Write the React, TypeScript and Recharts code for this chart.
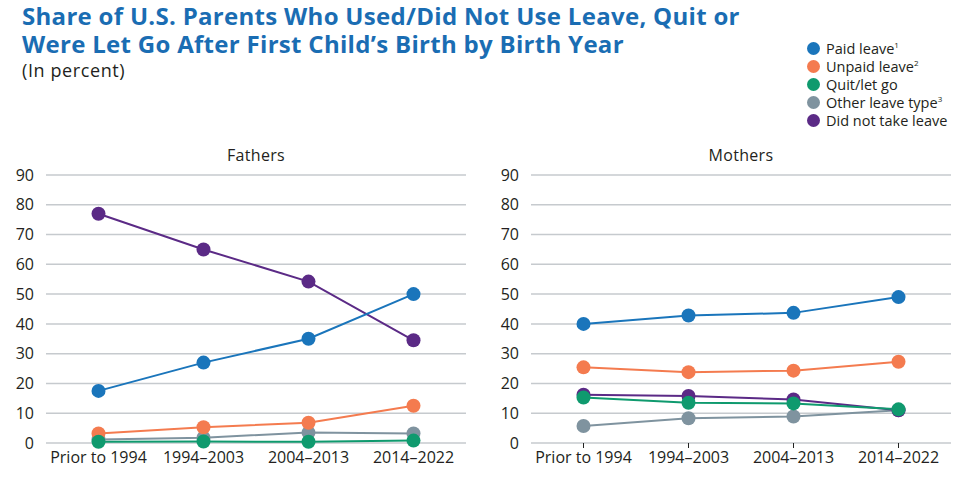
import { LineChart, Line, XAxis, YAxis, CartesianGrid } from 'recharts';

// Share of U.S. parents who used / did not use leave, by birth year of first child

const categories = ['Prior to 1994', '1994–2003', '2004–2013', '2014–2022'];
const yTicks = [0, 10, 20, 30, 40, 50, 60, 70, 80, 90];

// Fathers (percent)
const fathersPaid = [17.5, 27, 35, 50];
const fathersUnpaid = [3.2, 5.3, 6.8, 12.5];
const fathersQuit = [0.4, 0.5, 0.4, 0.8];
const fathersOther = [1.2, 1.8, 3.5, 3.2];
const fathersNone = [77, 65, 54.2, 34.5];

// Mothers (percent)
const mothersPaid = [40, 42.8, 43.7, 49];
const mothersUnpaid = [25.4, 23.8, 24.3, 27.3];
const mothersQuit = [15.3, 13.5, 13.3, 11.3];
const mothersOther = [5.7, 8.3, 8.9, 11];
const mothersNone = [16.2, 15.8, 14.6, 11];

const BLUE = '#1a75bb';
const ORANGE = '#f47b4f';
const GREEN = '#0f9a6e';
const GRAY = '#7f939f';
const PURPLE = '#5b2a86';
const TEXT = '#231f20';
const FONT = '"Open Sans", sans-serif';

const series = [
  { key: 'other', color: GRAY },
  { key: 'none', color: PURPLE },
  { key: 'unpaid', color: ORANGE },
  { key: 'paid', color: BLUE },
  { key: 'quit', color: GREEN },
];

const legend = [
  { label: 'Paid leave', sup: '1', color: BLUE },
  { label: 'Unpaid leave', sup: '2', color: ORANGE },
  { label: 'Quit/let go', sup: '', color: GREEN },
  { label: 'Other leave type', sup: '3', color: GRAY },
  { label: 'Did not take leave', sup: '', color: PURPLE },
];

const rows = (paid: number[], unpaid: number[], quit: number[], other: number[], none: number[]) =>
  categories.map((cat, i) => ({ cat, paid: paid[i], unpaid: unpaid[i], quit: quit[i], other: other[i], none: none[i] }));

const fathers = rows(fathersPaid, fathersUnpaid, fathersQuit, fathersOther, fathersNone);
const mothers = rows(mothersPaid, mothersUnpaid, mothersQuit, mothersOther, mothersNone);

function Panel({ title, data, left, ticks }: { title: string; data: any[]; left: number; ticks: boolean }) {
  return (
    <div style={{ position: 'absolute', left, top: 140, width: 480, height: 340 }}>
      <div style={{
        position: 'absolute', left: 46, width: 420, top: 4, textAlign: 'center',
        fontSize: 16, color: TEXT, fontFamily: FONT, letterSpacing: 0.3,
      }}>{title}</div>
      <LineChart width={480} height={340} data={data} margin={{ top: 35, right: 14, left: 0, bottom: 7 }}>
        <CartesianGrid vertical={false} stroke="#c6cace" strokeWidth={1.5} />
        <XAxis
          dataKey="cat" axisLine={false} tickLine={ticks ? { stroke: '#222' } : false} tickSize={ticks ? 5 : 0}
          tickMargin={ticks ? 4 : 9} height={30} interval={0} padding={{ left: 52.5, right: 52.5 }}
          tick={{ fill: TEXT, fontSize: 16, fontFamily: FONT }}
        />
        <YAxis
          domain={[0, 90]} ticks={yTicks} width={46} axisLine={false} tickLine={false} tickMargin={6}
          tick={{ fill: TEXT, fontSize: 16, fontFamily: FONT }}
        />
        {series.map((s) => (
          <Line
            key={s.key} dataKey={s.key} stroke={s.color} strokeWidth={2}
            dot={{ r: 7, fill: s.color, stroke: s.color, strokeWidth: 0 }}
            isAnimationActive={false}
          />
        ))}
      </LineChart>
    </div>
  );
}

export default function App() {
  return (
    <div style={{ position: 'absolute', left: 0, top: 0, width: 969, height: 499, background: '#fff', fontFamily: FONT }}>
      <div style={{
        position: 'absolute', left: 22, top: 2, width: 780, color: '#1a6db3', fontWeight: 700, fontSize: 24,
        lineHeight: '28px', letterSpacing: 0.3, whiteSpace: 'nowrap',
      }}>
        <div>Share of U.S. Parents Who Used/Did Not Use Leave, Quit or</div>
        <div>Were Let Go After First Child’s Birth by Birth Year</div>
      </div>
      <div style={{
        position: 'absolute', left: 22, top: 59, color: TEXT, fontSize: 18, lineHeight: '22px', letterSpacing: 0.6,
      }}>(In percent)</div>
      <div style={{ position: 'absolute', left: 807, top: 39 }}>
        {legend.map((l) => (
          <div key={l.label} style={{ display: 'flex', alignItems: 'center', height: 18, fontSize: 14.5, color: TEXT }}>
            <span style={{ width: 13, height: 13, borderRadius: '50%', background: l.color, marginRight: 6 }} />
            <span>{l.label}{l.sup && <sup style={{ fontSize: 8 }}>{l.sup}</sup>}</span>
          </div>
        ))}
      </div>
      <Panel title="Fathers" data={fathers} left={0} ticks={false} />
      <Panel title="Mothers" data={mothers} left={485} ticks={true} />
    </div>
  );
}
